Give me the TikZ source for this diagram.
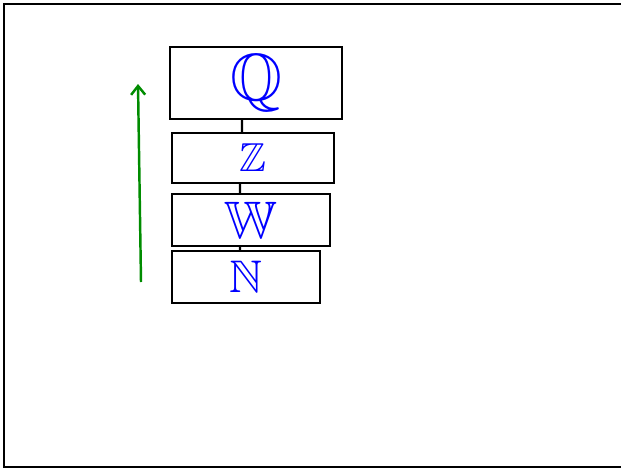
\documentclass[tikz,border=0pt]{standalone}
\usepackage{amssymb}
\usetikzlibrary{arrows.meta}

\tikzset{
  setbox/.style={draw,line width=1.4pt,inner sep=0pt,text=blue},
  link/.style={line width=1.4pt},
}

\begin{document}
\begin{tikzpicture}[x=0.02cm,y=-0.02cm,>={Straight Barb[length=5pt,width=8pt]}]
    % === Frame ===
    \useasboundingbox (0,0) rectangle (621,470);
    \draw[line width=1.4pt] (4,4) rectangle (640,467);

    % === Number sets, stacked ===
    \node[setbox,minimum width=3.44cm,minimum height=1.44cm,
          font=\fontsize{38}{40}\selectfont] (Q) at (256,83) {$\mathbb{Q}$};
    \node[setbox,minimum width=3.24cm,minimum height=1.0cm,
          font=\fontsize{23}{25}\selectfont] (Z) at (253,158) {$\mathbb{Z}$};
    \node[setbox,minimum width=3.16cm,minimum height=1.04cm,
          font=\fontsize{30}{32}\selectfont] (W) at (251,220) {$\mathbb{W}$};
    \node[setbox,minimum width=2.96cm,minimum height=1.04cm,
          font=\fontsize{26}{28}\selectfont] (N) at (246,277) {$\mathbb{N}$};

    % Links between the boxes
    \draw[link] ([xshift=-0.28cm]Q.south) -- ([xshift=-0.22cm]Z.north);
    \draw[link] ([xshift=-0.26cm]Z.south) -- ([xshift=-0.22cm]W.north);
    \draw[link] ([xshift=-0.22cm]W.south) -- ([xshift=-0.12cm]N.north);

    % Growth arrow
    \coordinate (up0) at (141,282);
    \coordinate (up1) at (138,84);
    \draw[->,green!55!black,line width=1.4pt] (up0) -- (up1);
\end{tikzpicture}
\end{document}
